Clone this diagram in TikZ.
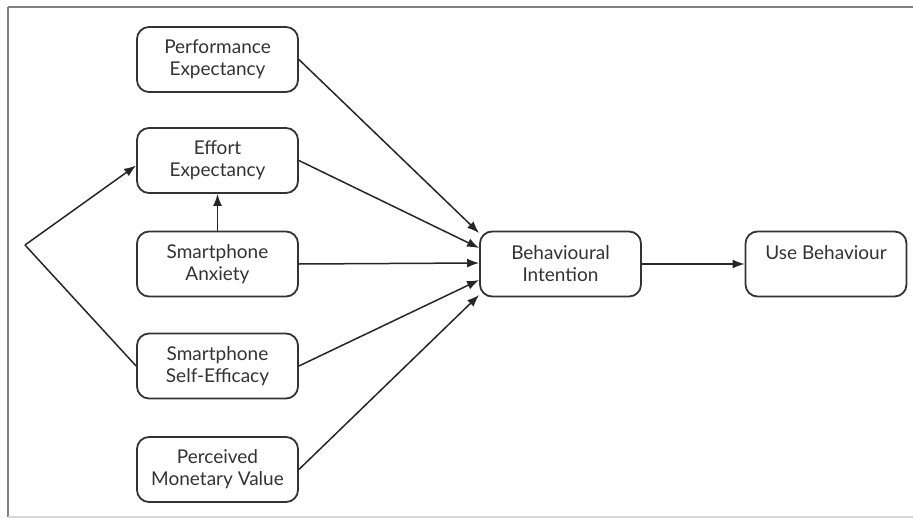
\documentclass[tikz,border=0pt]{standalone}
\usepackage{fontspec}
\setmainfont{Lato}
\usetikzlibrary{arrows.meta,calc}
\usepackage{xcolor}

\begin{document}
\begin{tikzpicture}
[x=0.5pt, y=-0.5pt,
% The factor style is used to draw the boxes of the model
factor/.style={rectangle, draw=black!80, line width=0.9pt, rounded corners=6pt, minimum width=80.5pt, minimum height=32.5pt, align=center, text=black!80, font=\fontsize{9.5}{11}\selectfont},
% The path style is used to draw the links between the boxes
path/.style={draw=black!85, line width=0.75pt, -{Latex[length=6pt,width=4.5pt]}},
link/.style={draw=black!85, line width=0.75pt}
]
\useasboundingbox (0,0) rectangle (913,518);
% Draw the frame
\draw[black!50, line width=1pt](8,7)--(913,7);
\draw[black!50, line width=0.8pt](8,7)--(8,517);
\draw[black!15, line width=0.8pt](8,517)--(913,517);
% Draw factors
\node[factor] (perf) at (217.5,59.5) {Performance\\Expectancy};
\node[factor] (effort) at (217.5,160.5) {Effort\\Expectancy};
\node[factor] (anxiety) at (217.5,264) {Smartphone\\Anxiety};
\node[factor] (selfeff) at (217.5,366) {Smartphone\\Self-Efficacy};
\node[factor] (money) at (217.5,469.5) {Perceived\\Monetary Value};
\node[factor] (intent) at (560.5,264) {Behavioural\\Intention};
\node[factor] (use) at (826,264) {Use Behaviour\\\mbox{}};
% Draw paths
\coordinate (fork) at (25,245);
\draw[path](fork) -- ($(effort.west)+(0,5)$);
\draw[link](fork) -- (selfeff.west);
\draw[path](anxiety.north) -- (effort.south);
\draw[path](perf.east) -- ($(intent.west)+(0,-31)$);
\draw[path](effort.east) -- ($(intent.west)+(0,-16)$);
\draw[path](anxiety.east) -- ($(intent.west)+(0,-1)$);
\draw[path](selfeff.east) -- ($(intent.west)+(0,16)$);
\draw[path](money.east) -- ($(intent.west)+(0,31)$);
\draw[path](intent.east) -- (use.west);
\end{tikzpicture}
\end{document}
